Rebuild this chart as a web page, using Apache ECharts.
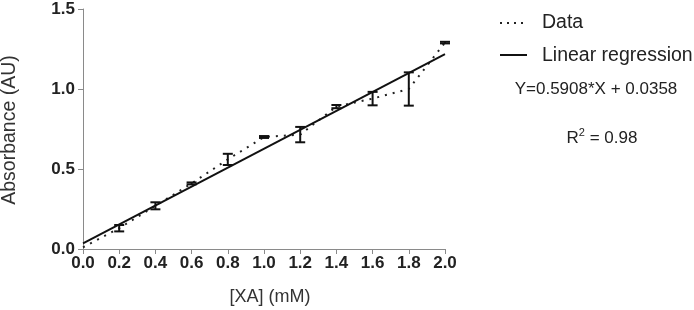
<!DOCTYPE html>
<html>
<head>
<meta charset="utf-8">
<script src="https://cdn.jsdelivr.net/npm/echarts@6/dist/echarts.min.js"></script>
<style>
html,body{margin:0;padding:0;background:#fff;}
#c{width:694px;height:310px;}
</style>
</head>
<body>
<div id="c"></div>
<script>
// Data
var concX = [0, 0.2, 0.4, 0.6, 0.8, 1.0, 1.2, 1.4, 1.6, 1.8, 2.0];
var meanY = [0.01, 0.13, 0.27, 0.41, 0.56, 0.70, 0.715, 0.89, 0.94, 1.0, 1.29];
var errY  = [null, 0.02, 0.022, 0.006, 0.035, 0.006, 0.048, 0.01, 0.042, 0.104, 0.005];
var regX = [0, 2.0];
var regY = [0.0358, 1.2174];
var xTicks = ['0.0','0.2','0.4','0.6','0.8','1.0','1.2','1.4','1.6','1.8','2.0'];
var yTicks = ['0.0','0.5','1.0','1.5'];
var equationText = 'Y=0.5908*X + 0.0358';
var r2Text = '0.98';

var FONT = '"Liberation Sans", Arial, sans-serif';
var chart = echarts.init(document.getElementById('c'), null, {renderer: 'canvas'});

var dataPts = concX.map(function (x, i) { return [x, meanY[i]]; });
var errPts = [];
concX.forEach(function (x, i) {
  if (errY[i] != null) errPts.push([x, meanY[i] - errY[i], meanY[i] + errY[i]]);
});
var regPts = regX.map(function (x, i) { return [x, regY[i]]; });

var option = {
  animation: false,
  backgroundColor: '#fff',
  grid: {left: 83, top: 9, right: 249, bottom: 61, containLabel: false},
  xAxis: {
    type: 'value', min: 0, max: 2.0, interval: 0.2,
    axisLine: {show: true, onZero: false, lineStyle: {color: '#8a8a8a', width: 1}},
    axisTick: {show: true, length: 5, lineStyle: {color: '#8a8a8a', width: 1}},
    splitLine: {show: false},
    axisLabel: {
      margin: 6, color: '#222', fontFamily: FONT, fontWeight: 'bold', fontSize: 17,
      formatter: function (v) { var i = Math.round(v / 0.2); return xTicks[i] || ''; }
    }
  },
  yAxis: {
    type: 'value', min: 0, max: 1.5, interval: 0.5,
    axisLine: {show: true, lineStyle: {color: '#8a8a8a', width: 1}},
    axisTick: {show: true, length: 5, lineStyle: {color: '#8a8a8a', width: 1}},
    splitLine: {show: false},
    axisLabel: {
      margin: 8, color: '#222', fontFamily: FONT, fontWeight: 'bold', fontSize: 17,
      formatter: function (v) { var i = Math.round(v / 0.5); return yTicks[i] || ''; }
    }
  },
  series: [
    {
      name: 'Linear regression', type: 'line', data: regPts, symbol: 'none',
      lineStyle: {color: '#111', width: 2}, z: 3
    },
    {
      name: 'Data', type: 'line', data: dataPts, symbol: 'none',
      lineStyle: {color: '#222', width: 2, type: [2, 6]}, z: 2
    },
    {
      name: 'err', type: 'custom', data: errPts, z: 4,
      renderItem: function (params, api) {
        var x = api.value(0);
        var lo = api.coord([x, api.value(1)]);
        var hi = api.coord([x, api.value(2)]);
        var w = 5;
        var st = {stroke: '#111', lineWidth: 2};
        return {
          type: 'group',
          children: [
            {type: 'line', shape: {x1: lo[0], y1: lo[1], x2: hi[0], y2: hi[1]}, style: st},
            {type: 'line', shape: {x1: lo[0] - w, y1: lo[1], x2: lo[0] + w, y2: lo[1]}, style: st},
            {type: 'line', shape: {x1: hi[0] - w, y1: hi[1], x2: hi[0] + w, y2: hi[1]}, style: st}
          ]
        };
      }
    }
  ],
  graphic: [
    // y axis name
    {type: 'text', x: 10, y: 130, rotation: Math.PI / 2,
      style: {text: 'Absorbance (AU)', fill: '#333', font: '19.5px ' + FONT, textAlign: 'center', textVerticalAlign: 'middle'}},
    // x axis name
    {type: 'text', x: 270, y: 297,
      style: {text: '[XA] (mM)', fill: '#333', font: '18px ' + FONT, textAlign: 'center', textVerticalAlign: 'middle'}},
    // legend
    {type: 'line', shape: {x1: 500, y1: 23, x2: 524, y2: 23}, style: {stroke: '#222', lineWidth: 2, lineDash: [2, 5]}},
    {type: 'text', x: 542, y: 23, style: {text: 'Data', fill: '#222', font: '19.5px ' + FONT, textAlign: 'left', textVerticalAlign: 'middle'}},
    {type: 'line', shape: {x1: 500, y1: 55, x2: 527, y2: 55}, style: {stroke: '#111', lineWidth: 2}},
    {type: 'text', x: 542, y: 56, style: {text: 'Linear regression', fill: '#222', font: '19.5px ' + FONT, textAlign: 'left', textVerticalAlign: 'middle'}},
    {type: 'text', x: 596, y: 89, style: {text: equationText, fill: '#222', font: '17px ' + FONT, textAlign: 'center', textVerticalAlign: 'middle'}},
    {type: 'text', x: 602, y: 138, style: {
      text: 'R{sup|2} = ' + r2Text, fill: '#222', font: '17px ' + FONT, textAlign: 'center', textVerticalAlign: 'middle',
      rich: {sup: {fontSize: 11, fontFamily: FONT, fill: '#222', verticalAlign: 'top', padding: [0, 0, 10, 0]}}
    }}
  ]
};
chart.setOption(option);
</script>
</body>
</html>
